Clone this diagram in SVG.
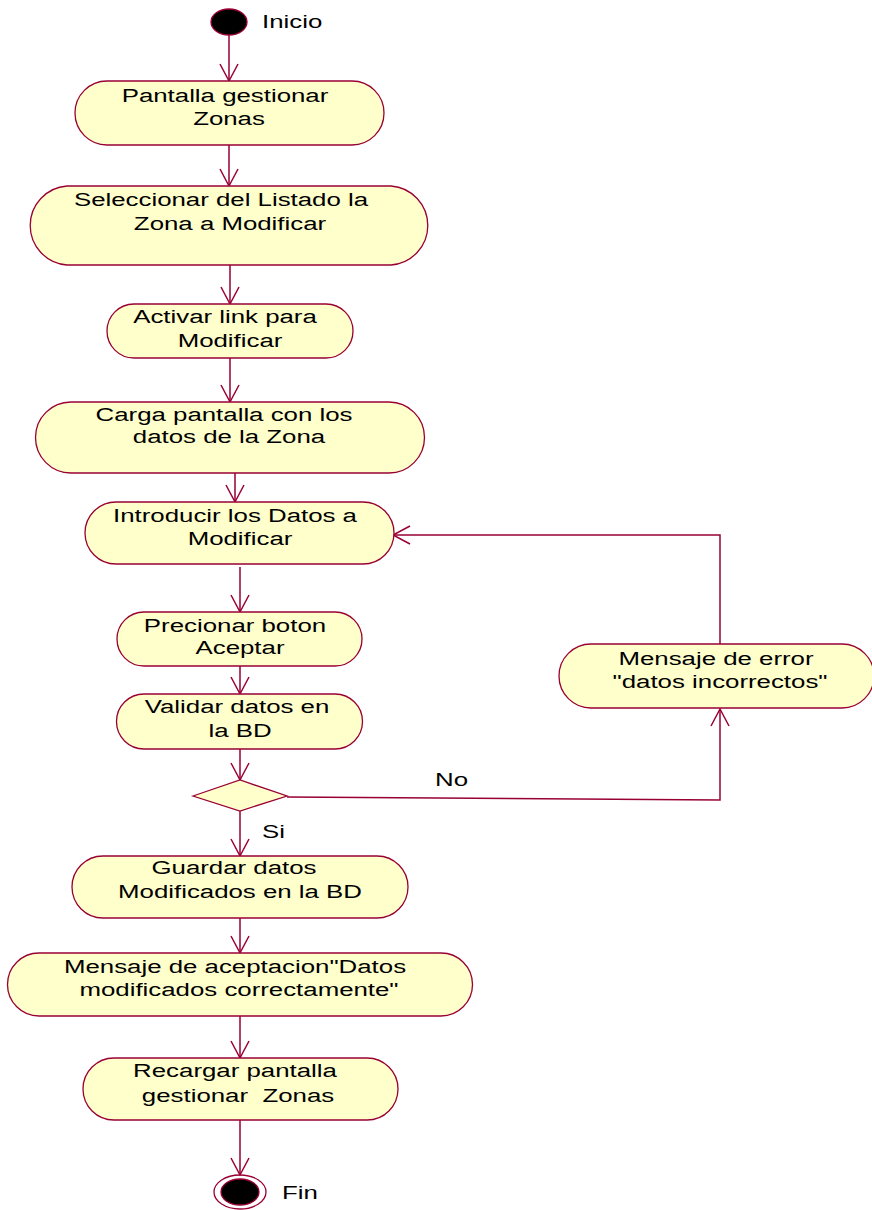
<svg xmlns="http://www.w3.org/2000/svg" width="872" height="1210" viewBox="0 0 872 1210">
<defs>
<marker id="arr" viewBox="-18 -11 20 22" markerWidth="20" markerHeight="22" refX="0" refY="0" orient="auto" markerUnits="userSpaceOnUse">
<path d="M-17,-9 L0,0 L-17,9" fill="none" stroke="#990033" stroke-width="1.5"/>
</marker>
</defs>
<style>
.nd{fill:#FFFFCC;stroke:#990033;stroke-width:1.3}
.t{font-family:"Liberation Sans",Arial,sans-serif;font-size:19px;fill:#000;text-anchor:middle;white-space:pre}
.l{font-family:"Liberation Sans",Arial,sans-serif;font-size:19px;fill:#000;text-anchor:start}
.c{fill:none;stroke:#990033;stroke-width:1.5;marker-end:url(#arr)}
</style>
<rect width="872" height="1210" fill="#fff"/>
<g id="connectors">
<path class="c" d="M229,35 V81"/>
<path class="c" d="M229,145 V186"/>
<path class="c" d="M230,265 V304"/>
<path class="c" d="M230,358 V402"/>
<path class="c" d="M235,473 V502"/>
<path class="c" d="M240,567 V612"/>
<path class="c" d="M240,666 V694"/>
<path class="c" d="M240,749 V780"/>
<path class="c" d="M240,811 V856"/>
<path class="c" d="M240,918 V953"/>
<path class="c" d="M240,1016 V1058"/>
<path class="c" d="M240,1120 V1175"/>
<path class="c" d="M287,797 L720,800 V709"/>
<path class="c" d="M720,644 V535 H393"/>
<text class="l" transform="translate(435,0) scale(1.36,1)" x="0" y="786">No</text>
<text class="l" transform="translate(262,0) scale(1.36,1)" x="0" y="838">Si</text>
</g>
<g id="inicio">
<ellipse cx="229" cy="22" rx="18" ry="13" fill="#000" stroke="#990033" stroke-width="1.3"/>
<text class="l" transform="translate(262,0) scale(1.36,1)" x="0" y="28">Inicio</text>
</g>
<g id="n1">
<path class="nd" d="M107,81 H352 A32,32 0 0 1 352,145 H107 A32,32 0 0 1 107,81 Z"/>
<text class="t" transform="translate(225,0) scale(1.36,1)" x="0" y="102">Pantalla gestionar</text>
<text class="t" transform="translate(229,0) scale(1.36,1)" x="0" y="125">Zonas</text>
</g>
<g id="n2">
<path class="nd" d="M67,186 H391 A39.6,39.6 0 0 1 391,265 H67 A39.6,39.6 0 0 1 67,186 Z"/>
<text class="t" transform="translate(221,0) scale(1.36,1)" x="0" y="206">Seleccionar del Listado la</text>
<text class="t" transform="translate(230,0) scale(1.36,1)" x="0" y="230">Zona a Modificar</text>
</g>
<g id="n3">
<path class="nd" d="M134,304 H326 A27,27 0 0 1 326,358 H134 A27,27 0 0 1 134,304 Z"/>
<text class="t" transform="translate(225,0) scale(1.36,1)" x="0" y="323">Activar link para</text>
<text class="t" transform="translate(230,0) scale(1.36,1)" x="0" y="347">Modificar</text>
</g>
<g id="n4">
<path class="nd" d="M71,402 H389 A35.5,35.5 0 0 1 389,473 H71 A35.5,35.5 0 0 1 71,402 Z"/>
<text class="t" transform="translate(224,0) scale(1.36,1)" x="0" y="421">Carga pantalla con los</text>
<text class="t" transform="translate(229,0) scale(1.36,1)" x="0" y="443">datos de la Zona</text>
</g>
<g id="n5">
<path class="nd" d="M116,502 H363 A31,31 0 0 1 363,564 H116 A31,31 0 0 1 116,502 Z"/>
<text class="t" transform="translate(235,0) scale(1.36,1)" x="0" y="522">Introducir los Datos a</text>
<text class="t" transform="translate(240,0) scale(1.36,1)" x="0" y="545">Modificar</text>
</g>
<g id="n6">
<path class="nd" d="M144,612 H335 A27,27 0 0 1 335,666 H144 A27,27 0 0 1 144,612 Z"/>
<text class="t" transform="translate(235,0) scale(1.36,1)" x="0" y="632">Precionar boton</text>
<text class="t" transform="translate(240,0) scale(1.36,1)" x="0" y="654">Aceptar</text>
</g>
<g id="n7">
<path class="nd" d="M144,694 H335 A27.5,27.5 0 0 1 335,749 H144 A27.5,27.5 0 0 1 144,694 Z"/>
<text class="t" transform="translate(237,0) scale(1.36,1)" x="0" y="713">Validar datos en</text>
<text class="t" transform="translate(240,0) scale(1.36,1)" x="0" y="737">la BD</text>
</g>
<g id="decision">
<path class="nd" d="M193,796 L240,780 L287,796 L240,811 Z"/>
</g>
<g id="error">
<path class="nd" d="M591,644 H842 A32,32 0 0 1 842,708 H591 A32,32 0 0 1 591,644 Z"/>
<text class="t" transform="translate(716,0) scale(1.36,1)" x="0" y="665">Mensaje de error</text>
<text class="t" transform="translate(720,0) scale(1.36,1)" x="0" y="688">"datos incorrectos"</text>
</g>
<g id="n8">
<path class="nd" d="M103,856 H377 A31,31 0 0 1 377,918 H103 A31,31 0 0 1 103,856 Z"/>
<text class="t" transform="translate(234,0) scale(1.36,1)" x="0" y="874">Guardar datos</text>
<text class="t" transform="translate(240,0) scale(1.36,1)" x="0" y="898">Modificados en la BD</text>
</g>
<g id="n9">
<path class="nd" d="M39,953 H441 A31.5,31.5 0 0 1 441,1016 H39 A31.5,31.5 0 0 1 39,953 Z"/>
<text class="t" transform="translate(235,0) scale(1.36,1)" x="0" y="973">Mensaje de aceptacion"Datos</text>
<text class="t" transform="translate(239,0) scale(1.36,1)" x="0" y="996">modificados correctamente"</text>
</g>
<g id="n10">
<path class="nd" d="M114,1058 H367 A31,31 0 0 1 367,1120 H114 A31,31 0 0 1 114,1058 Z"/>
<text class="t" transform="translate(235,0) scale(1.36,1)" x="0" y="1077">Recargar pantalla</text>
<text class="t" transform="translate(238,0) scale(1.36,1)" x="0" y="1102">gestionar  Zonas</text>
</g>
<g id="fin">
<ellipse cx="240" cy="1192" rx="26" ry="17" fill="none" stroke="#990033" stroke-width="1.3"/>
<ellipse cx="240" cy="1192" rx="19" ry="13" fill="#000" stroke="#990033" stroke-width="1.3"/>
<text class="l" transform="translate(282,0) scale(1.36,1)" x="0" y="1199">Fin</text>
</g>
</svg>
